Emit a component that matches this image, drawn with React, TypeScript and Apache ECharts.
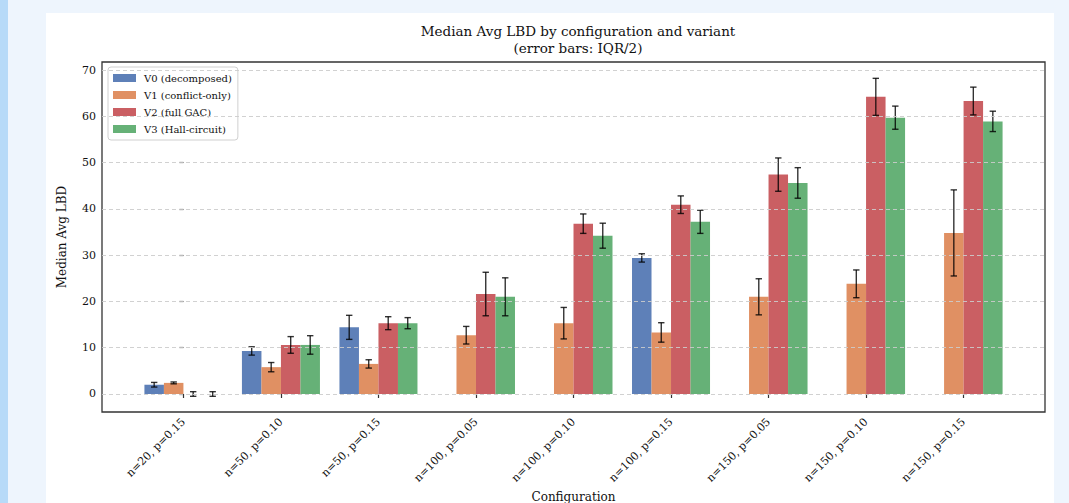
import React, { useEffect, useRef } from "react";
import * as echarts from "echarts";

const categories = [
  "n=20, p=0.15",
  "n=50, p=0.10",
  "n=50, p=0.15",
  "n=100, p=0.05",
  "n=100, p=0.10",
  "n=100, p=0.15",
  "n=150, p=0.05",
  "n=150, p=0.10",
  "n=150, p=0.15",
];

const variantNames = ["V0 (decomposed)", "V1 (conflict-only)", "V2 (full GAC)", "V3 (Hall-circuit)"];

const v0 = [2.0, 9.3, 14.4, null, null, 29.4, null, null, null];
const v0Err = [0.5, 0.9, 2.6, null, null, 0.9, null, null, null];
const v1 = [2.4, 5.8, 6.5, 12.7, 15.3, 13.3, 21.0, 23.8, 34.8];
const v1Err = [0.2, 1.0, 0.9, 1.9, 3.4, 2.1, 3.9, 3.0, 9.3];
const v2 = [0, 10.6, 15.3, 21.6, 36.8, 40.9, 47.4, 64.2, 63.3];
const v2Err = [0.5, 1.8, 1.4, 4.7, 2.1, 1.9, 3.6, 4.0, 3.0];
const v3 = [0, 10.6, 15.3, 21.0, 34.2, 37.2, 45.6, 59.7, 58.9];
const v3Err = [0.5, 2.0, 1.2, 4.1, 2.7, 2.5, 3.3, 2.5, 2.2];

const yTicks = [0, 10, 20, 30, 40, 50, 60, 70];

const colors = [
  "rgba(76,114,176,0.9)",
  "rgba(221,132,82,0.9)",
  "rgba(196,78,82,0.9)",
  "rgba(85,168,104,0.9)",
];

const FONT = "DejaVu Serif";

export default function App() {
  const ref = useRef<HTMLDivElement>(null);

  useEffect(() => {
    const chart = echarts.init(ref.current!, null, { renderer: "svg" });
    const values = [v0, v1, v2, v3];
    const errs = [v0Err, v1Err, v2Err, v3Err];
    const offsets = [-0.3, -0.1, 0.1, 0.3];
    const barW = 0.2;

    const barSeries = variantNames.map((name, si) => ({
      name,
      type: "custom",
      z: 3,
      itemStyle: { color: colors[si] },
      encode: { x: 0, y: 1 },
      data: values[si]
        .map((v, i) => (v === null ? null : [i, v, errs[si][i]]))
        .filter((d) => d !== null),
      renderItem: (params: any, api: any) => {
        const x = api.value(0) + offsets[si];
        const y = api.value(1);
        const e = api.value(2);
        const tl = api.coord([x - barW / 2, y]);
        const br = api.coord([x + barW / 2, 0]);
        const top = api.coord([x, y + e]);
        const bot = api.coord([x, y - e]);
        const cap = 3.2;
        const errStyle = { stroke: "rgba(0,0,0,0.8)", lineWidth: 1.4 };
        return {
          type: "group",
          children: [
            {
              type: "rect",
              shape: { x: tl[0], y: tl[1], width: br[0] - tl[0], height: br[1] - tl[1] },
              style: { fill: colors[si] },
            },
            {
              type: "line",
              shape: { x1: top[0], y1: top[1], x2: bot[0], y2: bot[1] },
              style: errStyle,
            },
            {
              type: "line",
              shape: { x1: top[0] - cap, y1: top[1], x2: top[0] + cap, y2: top[1] },
              style: errStyle,
            },
            {
              type: "line",
              shape: { x1: bot[0] - cap, y1: bot[1], x2: bot[0] + cap, y2: bot[1] },
              style: errStyle,
            },
          ],
        };
      },
    }));

    const option: any = {
      animation: false,
      backgroundColor: "#EEF5FD",
      graphic: [
        { type: "rect", z: -10, shape: { x: 0, y: 0, width: 8, height: 503 }, style: { fill: "#B7DAF8" } },
        { type: "rect", z: -10, shape: { x: 46, y: 13, width: 1008, height: 490 }, style: { fill: "#FFFFFF" } },
      ],
      title: {
        text: "Median Avg LBD by configuration and variant\n(error bars: IQR/2)",
        left: 573,
        top: 17,
        textAlign: "center",
        textStyle: { fontFamily: FONT, fontSize: 13.5, fontWeight: "normal", color: "#111", lineHeight: 17 },
      },
      legend: {
        data: variantNames,
        orient: "vertical",
        left: 108,
        top: 67,
        icon: "rect",
        itemWidth: 23,
        itemHeight: 8,
        itemGap: 5,
        padding: [5, 6, 5, 5],
        backgroundColor: "rgba(255,255,255,0.85)",
        borderColor: "#d0d0d0",
        borderWidth: 1,
        borderRadius: 3,
        textStyle: { fontFamily: FONT, fontSize: 10, color: "#111", lineHeight: 12, padding: [0, 0, 0, 3] },
      },
      grid: {
        left: 102,
        top: 62,
        width: 943,
        height: 350,
        outerBoundsMode: "none",
        containLabel: false,
        show: true,
        backgroundColor: "#FFFFFF",
        borderColor: "#333333",
        borderWidth: 1.3,
      },
      xAxis: {
        type: "value",
        min: -0.835,
        max: 8.835,
        name: "Configuration",
        nameLocation: "middle",
        nameGap: 76,
        nameTextStyle: { fontFamily: FONT, fontSize: 12, color: "#111" },
        axisLine: { show: false },
        splitLine: { show: false },
        axisTick: {
          show: true,
          length: 4,
          customValues: categories.map((_, i) => i),
          lineStyle: { color: "#333", width: 1.2 },
        },
        axisLabel: {
          customValues: categories.map((_, i) => i),
          formatter: (v: number) => categories[Math.round(v)],
          rotate: 45,
          margin: 8,
          fontFamily: FONT,
          fontSize: 11,
          color: "#111",
        },
      },
      yAxis: {
        type: "value",
        min: -3.89,
        max: 71.73,
        name: "Median Avg LBD",
        nameLocation: "middle",
        nameGap: 34,
        nameTextStyle: { fontFamily: FONT, fontSize: 12, color: "#111" },
        axisLine: { show: false },
        splitLine: { show: false },
        axisTick: {
          show: true,
          length: 4,
          customValues: yTicks,
          lineStyle: { color: "#333", width: 1.2 },
        },
        axisLabel: {
          customValues: yTicks,
          margin: 6,
          fontFamily: FONT,
          fontSize: 11,
          color: "#111",
        },
      },
      series: [
        {
          name: "grid",
          type: "line",
          z: 1,
          data: [],
          silent: true,
          markLine: {
            silent: true,
            symbol: "none",
            label: { show: false },
            lineStyle: { type: [4, 3], color: "#cccccc", width: 0.9 },
            data: yTicks.map((t) => ({ yAxis: t })),
          },
        },
        ...barSeries,
      ],
    };
    chart.setOption(option);
    return () => chart.dispose();
  }, []);

  return (
    <div
      ref={ref}
      style={{ position: "absolute", left: 0, top: 0, width: 1069, height: 503 }}
    />
  );
}
